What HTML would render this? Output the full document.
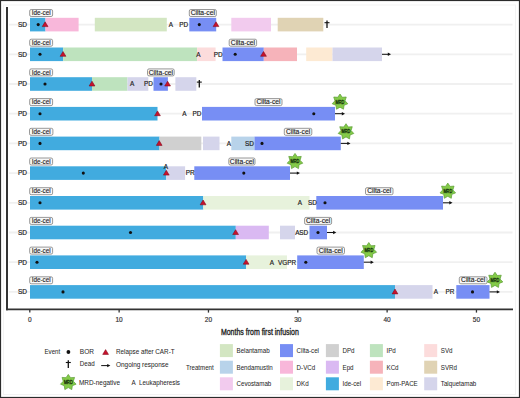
<!DOCTYPE html>
<html><head><meta charset="utf-8"><style>
html,body{margin:0;padding:0;background:#fff;}
svg{display:block;}
text{font-family:"Liberation Sans", sans-serif;}
</style></head><body>
<svg width="520" height="398" viewBox="0 0 520 398">
<rect x="0.5" y="0.5" width="519" height="397" fill="#fff" stroke="#2b2b2b" stroke-width="1.2"/>
<rect x="3.5" y="5" width="512" height="389.5" fill="none" stroke="#f3f3f3" stroke-width="1"/>
<line x1="9" y1="24.60" x2="512.5" y2="24.60" stroke="#f0f0f0" stroke-width="1.8"/>
<line x1="9" y1="54.30" x2="512.5" y2="54.30" stroke="#f0f0f0" stroke-width="1.8"/>
<line x1="9" y1="84.00" x2="512.5" y2="84.00" stroke="#f0f0f0" stroke-width="1.8"/>
<line x1="9" y1="113.70" x2="512.5" y2="113.70" stroke="#f0f0f0" stroke-width="1.8"/>
<line x1="9" y1="143.40" x2="512.5" y2="143.40" stroke="#f0f0f0" stroke-width="1.8"/>
<line x1="9" y1="173.10" x2="512.5" y2="173.10" stroke="#f0f0f0" stroke-width="1.8"/>
<line x1="9" y1="202.80" x2="512.5" y2="202.80" stroke="#f0f0f0" stroke-width="1.8"/>
<line x1="9" y1="232.50" x2="512.5" y2="232.50" stroke="#f0f0f0" stroke-width="1.8"/>
<line x1="9" y1="262.20" x2="512.5" y2="262.20" stroke="#f0f0f0" stroke-width="1.8"/>
<line x1="9" y1="291.90" x2="512.5" y2="291.90" stroke="#f0f0f0" stroke-width="1.8"/>
<line x1="7" y1="7" x2="7" y2="310.2" stroke="#333" stroke-width="2"/>
<line x1="6" y1="309.3" x2="513" y2="309.3" stroke="#333" stroke-width="1.8"/>
<line x1="29.80" y1="309" x2="29.80" y2="312.6" stroke="#333" stroke-width="1.3"/>
<text x="29.80" y="321.90" font-size="6.50" fill="#333" text-anchor="middle" stroke="#333" stroke-width="0.18">0</text>
<line x1="119.13" y1="309" x2="119.13" y2="312.6" stroke="#333" stroke-width="1.3"/>
<text x="119.13" y="321.90" font-size="6.50" fill="#333" text-anchor="middle" stroke="#333" stroke-width="0.18">10</text>
<line x1="208.46" y1="309" x2="208.46" y2="312.6" stroke="#333" stroke-width="1.3"/>
<text x="208.46" y="321.90" font-size="6.50" fill="#333" text-anchor="middle" stroke="#333" stroke-width="0.18">20</text>
<line x1="297.79" y1="309" x2="297.79" y2="312.6" stroke="#333" stroke-width="1.3"/>
<text x="297.79" y="321.90" font-size="6.50" fill="#333" text-anchor="middle" stroke="#333" stroke-width="0.18">30</text>
<line x1="387.12" y1="309" x2="387.12" y2="312.6" stroke="#333" stroke-width="1.3"/>
<text x="387.12" y="321.90" font-size="6.50" fill="#333" text-anchor="middle" stroke="#333" stroke-width="0.18">40</text>
<line x1="476.45" y1="309" x2="476.45" y2="312.6" stroke="#333" stroke-width="1.3"/>
<text x="476.45" y="321.90" font-size="6.50" fill="#333" text-anchor="middle" stroke="#333" stroke-width="0.18">50</text>
<text x="259.90" y="335.00" font-size="9.00" fill="#222" text-anchor="middle" textLength="78.00" lengthAdjust="spacingAndGlyphs" stroke="#222" stroke-width="0.35">Months from first infusion</text>
<rect x="30.00" y="17.80" width="15.50" height="13.60" fill="#41abdf"/>
<rect x="45.50" y="17.80" width="33.10" height="13.60" fill="#f8b7da"/>
<rect x="94.80" y="17.80" width="72.00" height="13.60" fill="#d3e6c2"/>
<rect x="189.30" y="17.80" width="26.90" height="13.60" fill="#778ef4"/>
<rect x="231.30" y="17.80" width="39.70" height="13.60" fill="#f2cbee"/>
<rect x="277.70" y="17.80" width="45.60" height="13.60" fill="#e0d3b4"/>
<text x="22.40" y="26.90" font-size="6.50" fill="#222" text-anchor="middle" stroke="#222" stroke-width="0.18">SD</text>
<text x="170.80" y="26.90" font-size="6.40" fill="#222" text-anchor="middle" stroke="#222" stroke-width="0.18">A</text>
<text x="183.80" y="26.90" font-size="6.40" fill="#222" text-anchor="middle" stroke="#222" stroke-width="0.18">PD</text>
<circle cx="38.20" cy="24.60" r="1.55" fill="#111"/>
<circle cx="199.30" cy="24.60" r="1.55" fill="#111"/>
<polygon points="45.10,21.80 42.20,26.60 48.00,26.60" fill="#c8112c" stroke="#7e0817" stroke-width="0.55"/>
<polygon points="216.00,21.80 213.10,26.60 218.90,26.60" fill="#c8112c" stroke="#7e0817" stroke-width="0.55"/>
<line x1="327.00" y1="20.50" x2="327.00" y2="28.10" stroke="#111" stroke-width="1.3"/><line x1="324.50" y1="22.70" x2="329.50" y2="22.70" stroke="#111" stroke-width="1.1"/>
<rect x="29.70" y="9.50" width="22.90" height="7" rx="1.5" fill="#f8f8f8" stroke="#777" stroke-width="0.75"/>
<text x="41.15" y="15.10" font-size="6.60" fill="#1e1e1e" text-anchor="middle" textLength="19.00" lengthAdjust="spacingAndGlyphs" stroke="#1e1e1e" stroke-width="0.14">Ide-cel</text>
<rect x="189.30" y="9.50" width="27.00" height="7" rx="1.5" fill="#f8f8f8" stroke="#777" stroke-width="0.75"/>
<text x="202.80" y="15.10" font-size="6.60" fill="#1e1e1e" text-anchor="middle" textLength="24.20" lengthAdjust="spacingAndGlyphs" stroke="#1e1e1e" stroke-width="0.14">Cilta-cel</text>
<rect x="30.00" y="47.50" width="33.20" height="13.60" fill="#41abdf"/>
<rect x="63.20" y="47.50" width="133.90" height="13.60" fill="#bee3be"/>
<rect x="197.10" y="47.50" width="18.50" height="13.60" fill="#fcdcdc"/>
<rect x="222.50" y="47.50" width="41.30" height="13.60" fill="#778ef4"/>
<rect x="263.80" y="47.50" width="33.20" height="13.60" fill="#f6b3ba"/>
<rect x="306.20" y="47.50" width="26.30" height="13.60" fill="#fdead3"/>
<rect x="332.50" y="47.50" width="49.50" height="13.60" fill="#d5d5eb"/>
<text x="22.40" y="56.60" font-size="6.50" fill="#222" text-anchor="middle" stroke="#222" stroke-width="0.18">SD</text>
<text x="198.30" y="56.60" font-size="6.40" fill="#222" text-anchor="middle" stroke="#222" stroke-width="0.18">A</text>
<text x="218.30" y="56.60" font-size="6.40" fill="#222" text-anchor="middle" stroke="#222" stroke-width="0.18">PD</text>
<circle cx="40.00" cy="54.30" r="1.55" fill="#111"/>
<circle cx="235.20" cy="54.30" r="1.55" fill="#111"/>
<polygon points="63.00,51.50 60.10,56.30 65.90,56.30" fill="#c8112c" stroke="#7e0817" stroke-width="0.55"/>
<polygon points="263.50,51.50 260.60,56.30 266.40,56.30" fill="#c8112c" stroke="#7e0817" stroke-width="0.55"/>
<line x1="382.00" y1="54.30" x2="389.00" y2="54.30" stroke="#111" stroke-width="1"/><polygon points="391.00,54.30 387.80,52.60 387.80,56.00" fill="#111"/>
<rect x="29.70" y="39.20" width="22.90" height="7" rx="1.5" fill="#f8f8f8" stroke="#777" stroke-width="0.75"/>
<text x="41.15" y="44.80" font-size="6.60" fill="#1e1e1e" text-anchor="middle" textLength="19.00" lengthAdjust="spacingAndGlyphs" stroke="#1e1e1e" stroke-width="0.14">Ide-cel</text>
<rect x="229.20" y="39.20" width="27.40" height="7" rx="1.5" fill="#f8f8f8" stroke="#777" stroke-width="0.75"/>
<text x="242.90" y="44.80" font-size="6.60" fill="#1e1e1e" text-anchor="middle" textLength="24.20" lengthAdjust="spacingAndGlyphs" stroke="#1e1e1e" stroke-width="0.14">Cilta-cel</text>
<rect x="30.00" y="77.20" width="62.00" height="13.60" fill="#41abdf"/>
<rect x="92.00" y="77.20" width="35.50" height="13.60" fill="#bee3be"/>
<rect x="127.50" y="77.20" width="20.80" height="13.60" fill="#d5d5eb"/>
<rect x="153.50" y="77.20" width="14.40" height="13.60" fill="#778ef4"/>
<rect x="175.40" y="77.20" width="20.90" height="13.60" fill="#d5d5eb"/>
<text x="22.40" y="86.30" font-size="6.50" fill="#222" text-anchor="middle" stroke="#222" stroke-width="0.18">PD</text>
<text x="132.10" y="86.30" font-size="6.40" fill="#222" text-anchor="middle" stroke="#222" stroke-width="0.18">A</text>
<text x="148.40" y="86.30" font-size="6.40" fill="#222" text-anchor="middle" stroke="#222" stroke-width="0.18">PD</text>
<circle cx="45.00" cy="84.00" r="1.55" fill="#111"/>
<circle cx="161.00" cy="84.00" r="1.55" fill="#111"/>
<polygon points="92.00,81.20 89.10,86.00 94.90,86.00" fill="#c8112c" stroke="#7e0817" stroke-width="0.55"/>
<polygon points="167.60,81.20 164.70,86.00 170.50,86.00" fill="#c8112c" stroke="#7e0817" stroke-width="0.55"/>
<line x1="199.30" y1="79.90" x2="199.30" y2="87.50" stroke="#111" stroke-width="1.3"/><line x1="196.80" y1="82.10" x2="201.80" y2="82.10" stroke="#111" stroke-width="1.1"/>
<rect x="29.70" y="68.90" width="22.90" height="7" rx="1.5" fill="#f8f8f8" stroke="#777" stroke-width="0.75"/>
<text x="41.15" y="74.50" font-size="6.60" fill="#1e1e1e" text-anchor="middle" textLength="19.00" lengthAdjust="spacingAndGlyphs" stroke="#1e1e1e" stroke-width="0.14">Ide-cel</text>
<rect x="147.50" y="68.90" width="26.70" height="7" rx="1.5" fill="#f8f8f8" stroke="#777" stroke-width="0.75"/>
<text x="160.85" y="74.50" font-size="6.60" fill="#1e1e1e" text-anchor="middle" textLength="24.20" lengthAdjust="spacingAndGlyphs" stroke="#1e1e1e" stroke-width="0.14">Cilta-cel</text>
<rect x="30.00" y="106.90" width="127.50" height="13.60" fill="#41abdf"/>
<rect x="202.00" y="106.90" width="133.00" height="13.60" fill="#778ef4"/>
<text x="22.40" y="116.00" font-size="6.50" fill="#222" text-anchor="middle" stroke="#222" stroke-width="0.18">PD</text>
<text x="184.50" y="116.00" font-size="6.40" fill="#222" text-anchor="middle" stroke="#222" stroke-width="0.18">A</text>
<text x="197.00" y="116.00" font-size="6.40" fill="#222" text-anchor="middle" stroke="#222" stroke-width="0.18">PD</text>
<circle cx="40.00" cy="113.70" r="1.55" fill="#111"/>
<circle cx="313.80" cy="113.70" r="1.55" fill="#111"/>
<polygon points="157.50,110.90 154.60,115.70 160.40,115.70" fill="#c8112c" stroke="#7e0817" stroke-width="0.55"/>
<line x1="335.00" y1="113.70" x2="343.00" y2="113.70" stroke="#111" stroke-width="1"/><polygon points="345.00,113.70 341.80,112.00 341.80,115.40" fill="#111"/>
<rect x="29.70" y="98.60" width="22.90" height="7" rx="1.5" fill="#f8f8f8" stroke="#777" stroke-width="0.75"/>
<text x="41.15" y="104.20" font-size="6.60" fill="#1e1e1e" text-anchor="middle" textLength="19.00" lengthAdjust="spacingAndGlyphs" stroke="#1e1e1e" stroke-width="0.14">Ide-cel</text>
<rect x="255.00" y="98.60" width="27.00" height="7" rx="1.5" fill="#f8f8f8" stroke="#777" stroke-width="0.75"/>
<text x="268.50" y="104.20" font-size="6.60" fill="#1e1e1e" text-anchor="middle" textLength="24.20" lengthAdjust="spacingAndGlyphs" stroke="#1e1e1e" stroke-width="0.14">Cilta-cel</text>
<polygon points="340.00,94.00 342.26,97.31 346.25,97.01 345.07,100.84 347.80,103.78 344.07,105.24 343.47,109.21 340.00,107.20 336.53,109.21 335.93,105.24 332.20,103.78 334.93,100.84 333.75,97.01 337.74,97.31" fill="#84cb48" stroke="#5b9c35" stroke-width="0.7"/><text x="340.00" y="103.60" font-size="4.60" fill="#14300a" stroke="#14300a" stroke-width="0.3" text-anchor="middle" textLength="8.80" lengthAdjust="spacingAndGlyphs">MRD</text>
<rect x="30.00" y="136.60" width="129.50" height="13.60" fill="#41abdf"/>
<rect x="159.50" y="136.60" width="41.80" height="13.60" fill="#d0d0d0"/>
<rect x="203.00" y="136.60" width="16.50" height="13.60" fill="#d5d5eb"/>
<rect x="231.30" y="136.60" width="23.20" height="13.60" fill="#b8d3ea"/>
<rect x="254.50" y="136.60" width="86.30" height="13.60" fill="#778ef4"/>
<text x="22.40" y="145.70" font-size="6.50" fill="#222" text-anchor="middle" stroke="#222" stroke-width="0.18">PD</text>
<text x="228.80" y="145.70" font-size="6.40" fill="#222" text-anchor="middle" stroke="#222" stroke-width="0.18">A</text>
<text x="249.50" y="145.70" font-size="6.40" fill="#222" text-anchor="middle" stroke="#222" stroke-width="0.18">SD</text>
<circle cx="40.00" cy="143.40" r="1.55" fill="#111"/>
<circle cx="262.00" cy="143.40" r="1.55" fill="#111"/>
<polygon points="159.20,140.60 156.30,145.40 162.10,145.40" fill="#c8112c" stroke="#7e0817" stroke-width="0.55"/>
<line x1="340.80" y1="143.40" x2="348.50" y2="143.40" stroke="#111" stroke-width="1"/><polygon points="350.50,143.40 347.30,141.70 347.30,145.10" fill="#111"/>
<rect x="29.50" y="128.30" width="23.40" height="7" rx="1.5" fill="#f8f8f8" stroke="#777" stroke-width="0.75"/>
<text x="41.20" y="133.90" font-size="6.60" fill="#1e1e1e" text-anchor="middle" textLength="19.00" lengthAdjust="spacingAndGlyphs" stroke="#1e1e1e" stroke-width="0.14">Ide-cel</text>
<rect x="284.30" y="128.30" width="27.50" height="7" rx="1.5" fill="#f8f8f8" stroke="#777" stroke-width="0.75"/>
<text x="298.05" y="133.90" font-size="6.60" fill="#1e1e1e" text-anchor="middle" textLength="24.20" lengthAdjust="spacingAndGlyphs" stroke="#1e1e1e" stroke-width="0.14">Cilta-cel</text>
<polygon points="346.00,123.70 348.26,127.01 352.25,126.71 351.07,130.54 353.80,133.48 350.07,134.94 349.47,138.91 346.00,136.90 342.53,138.91 341.93,134.94 338.20,133.48 340.93,130.54 339.75,126.71 343.74,127.01" fill="#84cb48" stroke="#5b9c35" stroke-width="0.7"/><text x="346.00" y="133.30" font-size="4.60" fill="#14300a" stroke="#14300a" stroke-width="0.3" text-anchor="middle" textLength="8.80" lengthAdjust="spacingAndGlyphs">MRD</text>
<rect x="30.00" y="166.30" width="136.30" height="13.60" fill="#41abdf"/>
<rect x="166.30" y="166.30" width="18.80" height="13.60" fill="#d5d5eb"/>
<rect x="194.30" y="166.30" width="95.70" height="13.60" fill="#778ef4"/>
<text x="22.40" y="175.40" font-size="6.50" fill="#222" text-anchor="middle" stroke="#222" stroke-width="0.18">PD</text>
<text x="190.30" y="175.40" font-size="6.40" fill="#222" text-anchor="middle" stroke="#222" stroke-width="0.18">PR</text>
<text x="165.90" y="168.80" font-size="6.40" fill="#222" text-anchor="middle" stroke="#222" stroke-width="0.18">A</text>
<circle cx="83.30" cy="173.10" r="1.55" fill="#111"/>
<circle cx="243.80" cy="173.10" r="1.55" fill="#111"/>
<polygon points="166.30,170.30 163.40,175.10 169.20,175.10" fill="#c8112c" stroke="#7e0817" stroke-width="0.55"/>
<line x1="290.00" y1="173.10" x2="298.00" y2="173.10" stroke="#111" stroke-width="1"/><polygon points="300.00,173.10 296.80,171.40 296.80,174.80" fill="#111"/>
<rect x="29.70" y="158.00" width="22.90" height="7" rx="1.5" fill="#f8f8f8" stroke="#777" stroke-width="0.75"/>
<text x="41.15" y="163.60" font-size="6.60" fill="#1e1e1e" text-anchor="middle" textLength="19.00" lengthAdjust="spacingAndGlyphs" stroke="#1e1e1e" stroke-width="0.14">Ide-cel</text>
<rect x="228.80" y="158.00" width="26.20" height="7" rx="1.5" fill="#f8f8f8" stroke="#777" stroke-width="0.75"/>
<text x="241.90" y="163.60" font-size="6.60" fill="#1e1e1e" text-anchor="middle" textLength="24.20" lengthAdjust="spacingAndGlyphs" stroke="#1e1e1e" stroke-width="0.14">Cilta-cel</text>
<polygon points="295.00,153.40 297.26,156.71 301.25,156.41 300.07,160.24 302.80,163.18 299.07,164.64 298.47,168.61 295.00,166.60 291.53,168.61 290.93,164.64 287.20,163.18 289.93,160.24 288.75,156.41 292.74,156.71" fill="#84cb48" stroke="#5b9c35" stroke-width="0.7"/><text x="295.00" y="163.00" font-size="4.60" fill="#14300a" stroke="#14300a" stroke-width="0.3" text-anchor="middle" textLength="8.80" lengthAdjust="spacingAndGlyphs">MRD</text>
<rect x="30.00" y="196.00" width="173.30" height="13.60" fill="#41abdf"/>
<rect x="203.30" y="196.00" width="106.20" height="13.60" fill="#e7f2dc"/>
<rect x="316.30" y="196.00" width="126.70" height="13.60" fill="#778ef4"/>
<text x="22.40" y="205.10" font-size="6.50" fill="#222" text-anchor="middle" stroke="#222" stroke-width="0.18">SD</text>
<text x="300.00" y="205.10" font-size="6.40" fill="#222" text-anchor="middle" stroke="#222" stroke-width="0.18">A</text>
<text x="312.50" y="205.10" font-size="6.40" fill="#222" text-anchor="middle" stroke="#222" stroke-width="0.18">SD</text>
<circle cx="40.00" cy="202.80" r="1.55" fill="#111"/>
<circle cx="325.00" cy="202.80" r="1.55" fill="#111"/>
<polygon points="203.10,200.00 200.20,204.80 206.00,204.80" fill="#c8112c" stroke="#7e0817" stroke-width="0.55"/>
<line x1="443.00" y1="202.80" x2="450.50" y2="202.80" stroke="#111" stroke-width="1"/><polygon points="452.50,202.80 449.30,201.10 449.30,204.50" fill="#111"/>
<rect x="29.70" y="187.70" width="22.90" height="7" rx="1.5" fill="#f8f8f8" stroke="#777" stroke-width="0.75"/>
<text x="41.15" y="193.30" font-size="6.60" fill="#1e1e1e" text-anchor="middle" textLength="19.00" lengthAdjust="spacingAndGlyphs" stroke="#1e1e1e" stroke-width="0.14">Ide-cel</text>
<rect x="365.50" y="187.70" width="27.50" height="7" rx="1.5" fill="#f8f8f8" stroke="#777" stroke-width="0.75"/>
<text x="379.25" y="193.30" font-size="6.60" fill="#1e1e1e" text-anchor="middle" textLength="24.20" lengthAdjust="spacingAndGlyphs" stroke="#1e1e1e" stroke-width="0.14">Cilta-cel</text>
<polygon points="447.80,183.10 450.06,186.41 454.05,186.11 452.87,189.94 455.60,192.88 451.87,194.34 451.27,198.31 447.80,196.30 444.33,198.31 443.73,194.34 440.00,192.88 442.73,189.94 441.55,186.11 445.54,186.41" fill="#84cb48" stroke="#5b9c35" stroke-width="0.7"/><text x="447.80" y="192.70" font-size="4.60" fill="#14300a" stroke="#14300a" stroke-width="0.3" text-anchor="middle" textLength="8.80" lengthAdjust="spacingAndGlyphs">MRD</text>
<rect x="30.00" y="225.70" width="205.80" height="13.60" fill="#41abdf"/>
<rect x="235.80" y="225.70" width="33.00" height="13.60" fill="#dab9f2"/>
<rect x="280.00" y="225.70" width="15.00" height="13.60" fill="#d5d5eb"/>
<rect x="309.50" y="225.70" width="17.50" height="13.60" fill="#778ef4"/>
<text x="22.40" y="234.80" font-size="6.50" fill="#222" text-anchor="middle" stroke="#222" stroke-width="0.18">SD</text>
<text x="297.50" y="234.80" font-size="6.40" fill="#222" text-anchor="middle" stroke="#222" stroke-width="0.18">A</text>
<text x="303.80" y="234.80" font-size="6.40" fill="#222" text-anchor="middle" stroke="#222" stroke-width="0.18">SD</text>
<circle cx="130.50" cy="232.50" r="1.55" fill="#111"/>
<circle cx="318.00" cy="232.50" r="1.55" fill="#111"/>
<polygon points="235.60,229.70 232.70,234.50 238.50,234.50" fill="#c8112c" stroke="#7e0817" stroke-width="0.55"/>
<line x1="327.00" y1="232.50" x2="334.30" y2="232.50" stroke="#111" stroke-width="1"/><polygon points="336.30,232.50 333.10,230.80 333.10,234.20" fill="#111"/>
<rect x="29.70" y="217.40" width="22.90" height="7" rx="1.5" fill="#f8f8f8" stroke="#777" stroke-width="0.75"/>
<text x="41.15" y="223.00" font-size="6.60" fill="#1e1e1e" text-anchor="middle" textLength="19.00" lengthAdjust="spacingAndGlyphs" stroke="#1e1e1e" stroke-width="0.14">Ide-cel</text>
<rect x="304.60" y="217.40" width="27.00" height="7" rx="1.5" fill="#f8f8f8" stroke="#777" stroke-width="0.75"/>
<text x="318.10" y="223.00" font-size="6.60" fill="#1e1e1e" text-anchor="middle" textLength="24.20" lengthAdjust="spacingAndGlyphs" stroke="#1e1e1e" stroke-width="0.14">Cilta-cel</text>
<rect x="30.00" y="255.40" width="216.20" height="13.60" fill="#41abdf"/>
<rect x="246.20" y="255.40" width="40.80" height="13.60" fill="#e7f2dc"/>
<rect x="297.20" y="255.40" width="66.60" height="13.60" fill="#778ef4"/>
<text x="22.40" y="264.50" font-size="6.50" fill="#222" text-anchor="middle" stroke="#222" stroke-width="0.18">PD</text>
<text x="271.90" y="264.50" font-size="6.40" fill="#222" text-anchor="middle" stroke="#222" stroke-width="0.18">A</text>
<text x="287.00" y="264.50" font-size="6.40" fill="#222" text-anchor="middle" stroke="#222" stroke-width="0.18">VGPR</text>
<circle cx="37.00" cy="262.20" r="1.55" fill="#111"/>
<circle cx="305.80" cy="262.20" r="1.55" fill="#111"/>
<polygon points="246.10,259.40 243.20,264.20 249.00,264.20" fill="#c8112c" stroke="#7e0817" stroke-width="0.55"/>
<line x1="363.80" y1="262.20" x2="371.80" y2="262.20" stroke="#111" stroke-width="1"/><polygon points="373.80,262.20 370.60,260.50 370.60,263.90" fill="#111"/>
<rect x="29.70" y="247.10" width="22.90" height="7" rx="1.5" fill="#f8f8f8" stroke="#777" stroke-width="0.75"/>
<text x="41.15" y="252.70" font-size="6.60" fill="#1e1e1e" text-anchor="middle" textLength="19.00" lengthAdjust="spacingAndGlyphs" stroke="#1e1e1e" stroke-width="0.14">Ide-cel</text>
<rect x="317.00" y="247.10" width="27.50" height="7" rx="1.5" fill="#f8f8f8" stroke="#777" stroke-width="0.75"/>
<text x="330.75" y="252.70" font-size="6.60" fill="#1e1e1e" text-anchor="middle" textLength="24.20" lengthAdjust="spacingAndGlyphs" stroke="#1e1e1e" stroke-width="0.14">Cilta-cel</text>
<polygon points="368.80,242.50 371.06,245.81 375.05,245.51 373.87,249.34 376.60,252.28 372.87,253.74 372.27,257.71 368.80,255.70 365.33,257.71 364.73,253.74 361.00,252.28 363.73,249.34 362.55,245.51 366.54,245.81" fill="#84cb48" stroke="#5b9c35" stroke-width="0.7"/><text x="368.80" y="252.10" font-size="4.60" fill="#14300a" stroke="#14300a" stroke-width="0.3" text-anchor="middle" textLength="8.80" lengthAdjust="spacingAndGlyphs">MRD</text>
<rect x="30.00" y="285.10" width="365.00" height="13.60" fill="#41abdf"/>
<rect x="395.00" y="285.10" width="37.50" height="13.60" fill="#d5d5eb"/>
<rect x="456.30" y="285.10" width="33.20" height="13.60" fill="#778ef4"/>
<text x="22.40" y="294.20" font-size="6.50" fill="#222" text-anchor="middle" stroke="#222" stroke-width="0.18">SD</text>
<text x="435.80" y="294.20" font-size="6.40" fill="#222" text-anchor="middle" stroke="#222" stroke-width="0.18">A</text>
<text x="450.00" y="294.20" font-size="6.40" fill="#222" text-anchor="middle" stroke="#222" stroke-width="0.18">PR</text>
<circle cx="63.00" cy="291.90" r="1.55" fill="#111"/>
<circle cx="472.50" cy="291.90" r="1.55" fill="#111"/>
<polygon points="395.00,289.10 392.10,293.90 397.90,293.90" fill="#c8112c" stroke="#7e0817" stroke-width="0.55"/>
<line x1="489.50" y1="291.90" x2="498.00" y2="291.90" stroke="#111" stroke-width="1"/><polygon points="500.00,291.90 496.80,290.20 496.80,293.60" fill="#111"/>
<rect x="29.70" y="276.80" width="22.90" height="7" rx="1.5" fill="#f8f8f8" stroke="#777" stroke-width="0.75"/>
<text x="41.15" y="282.40" font-size="6.60" fill="#1e1e1e" text-anchor="middle" textLength="19.00" lengthAdjust="spacingAndGlyphs" stroke="#1e1e1e" stroke-width="0.14">Ide-cel</text>
<rect x="459.30" y="276.80" width="27.70" height="7" rx="1.5" fill="#f8f8f8" stroke="#777" stroke-width="0.75"/>
<text x="473.15" y="282.40" font-size="6.60" fill="#1e1e1e" text-anchor="middle" textLength="24.20" lengthAdjust="spacingAndGlyphs" stroke="#1e1e1e" stroke-width="0.14">Cilta-cel</text>
<polygon points="495.00,272.20 497.26,275.51 501.25,275.21 500.07,279.04 502.80,281.98 499.07,283.44 498.47,287.41 495.00,285.40 491.53,287.41 490.93,283.44 487.20,281.98 489.93,279.04 488.75,275.21 492.74,275.51" fill="#84cb48" stroke="#5b9c35" stroke-width="0.7"/><text x="495.00" y="281.80" font-size="4.60" fill="#14300a" stroke="#14300a" stroke-width="0.3" text-anchor="middle" textLength="8.80" lengthAdjust="spacingAndGlyphs">MRD</text>
<text x="44.50" y="354.30" font-size="6.30" fill="#2a2a2a" text-anchor="start" textLength="15.70" lengthAdjust="spacingAndGlyphs" stroke="#2a2a2a" stroke-width="0.04">Event</text>
<circle cx="68.4" cy="352" r="1.9" fill="#111"/>
<text x="79.80" y="354.30" font-size="6.30" fill="#2a2a2a" text-anchor="start" textLength="14.20" lengthAdjust="spacingAndGlyphs" stroke="#2a2a2a" stroke-width="0.04">BOR</text>
<polygon points="105.60,349.60 102.70,354.40 108.50,354.40" fill="#c8112c" stroke="#7e0817" stroke-width="0.55"/>
<text x="116.00" y="354.30" font-size="6.30" fill="#2a2a2a" text-anchor="start" textLength="58.60" lengthAdjust="spacingAndGlyphs" stroke="#2a2a2a" stroke-width="0.04">Relapse after CAR-T</text>
<line x1="68.30" y1="360.30" x2="68.30" y2="367.90" stroke="#111" stroke-width="1.3"/><line x1="65.80" y1="362.50" x2="70.80" y2="362.50" stroke="#111" stroke-width="1.1"/>
<text x="79.80" y="366.40" font-size="6.30" fill="#2a2a2a" text-anchor="start" textLength="14.80" lengthAdjust="spacingAndGlyphs" stroke="#2a2a2a" stroke-width="0.04">Dead</text>
<line x1="101.20" y1="365.60" x2="108.40" y2="365.60" stroke="#111" stroke-width="1"/><polygon points="110.40,365.60 107.20,363.90 107.20,367.30" fill="#111"/>
<text x="116.00" y="366.90" font-size="6.30" fill="#2a2a2a" text-anchor="start" textLength="52.50" lengthAdjust="spacingAndGlyphs" stroke="#2a2a2a" stroke-width="0.04">Ongoing response</text>
<polygon points="68.30,374.40 70.56,377.71 74.55,377.41 73.37,381.24 76.10,384.18 72.37,385.64 71.77,389.61 68.30,387.60 64.83,389.61 64.23,385.64 60.50,384.18 63.23,381.24 62.05,377.41 66.04,377.71" fill="#84cb48" stroke="#5b9c35" stroke-width="0.7"/><text x="68.30" y="384.00" font-size="4.60" fill="#14300a" stroke="#14300a" stroke-width="0.3" text-anchor="middle" textLength="8.80" lengthAdjust="spacingAndGlyphs">MRD</text>
<text x="79.00" y="384.90" font-size="6.30" fill="#2a2a2a" text-anchor="start" textLength="41.00" lengthAdjust="spacingAndGlyphs" stroke="#2a2a2a" stroke-width="0.04">MRD-negative</text>
<text x="133.70" y="384.90" font-size="6.30" fill="#2a2a2a" text-anchor="middle" textLength="4.20" lengthAdjust="spacingAndGlyphs" stroke="#2a2a2a" stroke-width="0.04">A</text>
<text x="139.00" y="384.90" font-size="6.30" fill="#2a2a2a" text-anchor="start" textLength="41.00" lengthAdjust="spacingAndGlyphs" stroke="#2a2a2a" stroke-width="0.04">Leukapheresis</text>
<text x="185.90" y="370.20" font-size="6.30" fill="#2a2a2a" text-anchor="start" textLength="27.80" lengthAdjust="spacingAndGlyphs" stroke="#2a2a2a" stroke-width="0.04">Treatment</text>
<rect x="219.90" y="344.10" width="13" height="13" fill="#d3e6c2"/>
<text x="236.50" y="353.00" font-size="6.30" fill="#2a2a2a" text-anchor="start" textLength="33.12" lengthAdjust="spacingAndGlyphs" stroke="#2a2a2a" stroke-width="0.04">Belantamab</text>
<rect x="219.90" y="360.70" width="13" height="13" fill="#b8d3ea"/>
<text x="236.50" y="369.60" font-size="6.30" fill="#2a2a2a" text-anchor="start" textLength="36.22" lengthAdjust="spacingAndGlyphs" stroke="#2a2a2a" stroke-width="0.04">Bendamustin</text>
<rect x="219.90" y="377.30" width="13" height="13" fill="#f2cbee"/>
<text x="236.50" y="386.20" font-size="6.30" fill="#2a2a2a" text-anchor="start" textLength="34.83" lengthAdjust="spacingAndGlyphs" stroke="#2a2a2a" stroke-width="0.04">Cevostamab</text>
<rect x="280.00" y="344.10" width="13" height="13" fill="#778ef4"/>
<text x="296.60" y="353.00" font-size="6.30" fill="#2a2a2a" text-anchor="start" textLength="22.41" lengthAdjust="spacingAndGlyphs" stroke="#2a2a2a" stroke-width="0.04">Cilta-cel</text>
<rect x="280.00" y="360.70" width="13" height="13" fill="#f8b7da"/>
<text x="296.60" y="369.60" font-size="6.30" fill="#2a2a2a" text-anchor="start" textLength="18.62" lengthAdjust="spacingAndGlyphs" stroke="#2a2a2a" stroke-width="0.04">D-VCd</text>
<rect x="280.00" y="377.30" width="13" height="13" fill="#e7f2dc"/>
<text x="296.60" y="386.20" font-size="6.30" fill="#2a2a2a" text-anchor="start" textLength="12.07" lengthAdjust="spacingAndGlyphs" stroke="#2a2a2a" stroke-width="0.04">DKd</text>
<rect x="325.90" y="344.10" width="13" height="13" fill="#d0d0d0"/>
<text x="342.50" y="353.00" font-size="6.30" fill="#2a2a2a" text-anchor="start" textLength="12.07" lengthAdjust="spacingAndGlyphs" stroke="#2a2a2a" stroke-width="0.04">DPd</text>
<rect x="325.90" y="360.70" width="13" height="13" fill="#dab9f2"/>
<text x="342.50" y="369.60" font-size="6.30" fill="#2a2a2a" text-anchor="start" textLength="11.04" lengthAdjust="spacingAndGlyphs" stroke="#2a2a2a" stroke-width="0.04">Epd</text>
<rect x="325.90" y="377.30" width="13" height="13" fill="#41abdf"/>
<text x="342.50" y="386.20" font-size="6.30" fill="#2a2a2a" text-anchor="start" textLength="18.62" lengthAdjust="spacingAndGlyphs" stroke="#2a2a2a" stroke-width="0.04">Ide-cel</text>
<rect x="369.90" y="344.10" width="13" height="13" fill="#bee3be"/>
<text x="386.50" y="353.00" font-size="6.30" fill="#2a2a2a" text-anchor="start" textLength="9.31" lengthAdjust="spacingAndGlyphs" stroke="#2a2a2a" stroke-width="0.04">IPd</text>
<rect x="369.90" y="360.70" width="13" height="13" fill="#f6b3ba"/>
<text x="386.50" y="369.60" font-size="6.30" fill="#2a2a2a" text-anchor="start" textLength="12.07" lengthAdjust="spacingAndGlyphs" stroke="#2a2a2a" stroke-width="0.04">KCd</text>
<rect x="369.90" y="377.30" width="13" height="13" fill="#fdead3"/>
<text x="386.50" y="386.20" font-size="6.30" fill="#2a2a2a" text-anchor="start" textLength="31.26" lengthAdjust="spacingAndGlyphs" stroke="#2a2a2a" stroke-width="0.04">Pom-PACE</text>
<rect x="424.20" y="344.10" width="13" height="13" fill="#fcdcdc"/>
<text x="440.80" y="353.00" font-size="6.30" fill="#2a2a2a" text-anchor="start" textLength="11.73" lengthAdjust="spacingAndGlyphs" stroke="#2a2a2a" stroke-width="0.04">SVd</text>
<rect x="424.20" y="360.70" width="13" height="13" fill="#e0d3b4"/>
<text x="440.80" y="369.60" font-size="6.30" fill="#2a2a2a" text-anchor="start" textLength="16.21" lengthAdjust="spacingAndGlyphs" stroke="#2a2a2a" stroke-width="0.04">SVRd</text>
<rect x="424.20" y="377.30" width="13" height="13" fill="#d5d5eb"/>
<text x="440.80" y="386.20" font-size="6.30" fill="#2a2a2a" text-anchor="start" textLength="35.53" lengthAdjust="spacingAndGlyphs" stroke="#2a2a2a" stroke-width="0.04">Talquetamab</text>
</svg>
</body></html>
